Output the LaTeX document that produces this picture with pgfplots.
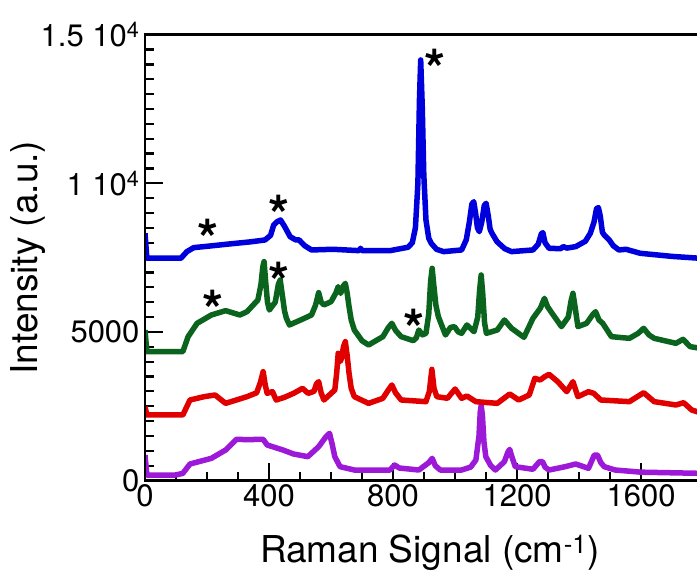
\documentclass[border=0pt]{standalone}
\usepackage{pgfplots}
\pgfplotsset{compat=1.18}
\usepackage{fontspec}
\setmainfont{TeX Gyre Heros}
\usetikzlibrary{calc}

\definecolor{cblue}{RGB}{0,0,220}
\definecolor{cgreen}{RGB}{10,100,30}
\definecolor{cred}{RGB}{225,0,0}
\definecolor{cpurple}{RGB}{155,25,215}

\begin{document}
\begin{tikzpicture}
\begin{axis}[
  scale only axis,
  width=552pt, height=445.8pt,
  xmin=0, xmax=1780, ymin=0, ymax=15000,
  axis line style={draw=none},
  xtick={0,400,800,1200,1600},
  ytick={0,5000,10000,15000},
  yticklabels={\mbox{0},\mbox{5000},\mbox{1 10\textsuperscript{4}},\mbox{1.5 10\textsuperscript{4}}},
  minor x tick num=3,
  minor y tick num=9,
  xtick pos=bottom, ytick pos=left,
  tick align=inside,
  major tick length=18pt, minor tick length=9pt,
  every tick/.style={black, line width=2.2pt},
  scaled ticks=false,
  /pgf/number format/assume math mode=true,
  /pgf/number format/1000 sep={},
  tick label style={font=\fontsize{31}{35}\selectfont},
  yticklabel style={xshift=-2pt},
  xlabel={Raman Signal (cm\textsuperscript{-1})},
  ylabel={Intensity (a.u.)},
  label style={font=\fontsize{37}{42}\selectfont},
  xlabel style={at={(rel axis cs:0.516,0)}, anchor=base, yshift=-82pt},
  ylabel style={at={(axis description cs:-0.212,0.5)}, anchor=center},
  clip mode=individual,
  every axis plot/.style={line width=5.5pt, line join=round},
]
% purple
\addplot[cpurple] coordinates {
(0,858)(6,185)(99,185)(122,241)(145,555)(214,746)(260,1026)(295,1386)(329,1375)
(381,1386)(394,1195)(445,1026)(479,892)(525,802)(560,1138)(582,1450)(595,1588)
(604,1200)(612,802)(629,465)(675,353)(790,353)(805,522)(820,420)(883,353)(915,600)
(926,746)(936,500)(952,353)(1021,353)(1050,450)(1067,690)(1077,1500)(1081,2300)
(1084,2518)(1088,2200)(1093,1300)(1099,802)(1115,500)(1130,353)(1159,634)(1170,950)
(1176,1049)(1183,800)(1194,465)(1251,378)(1272,634)(1282,634)(1290,450)(1303,353)
(1355,465)(1389,555)(1430,409)(1449,858)(1459,858)(1470,600)(1481,465)(1516,353)
(1600,280)(1790,241)
};
% red
\addplot[cred] coordinates {
(0,2484)(6,2204)(122,2204)(145,2709)(191,2821)(226,2877)(260,2596)(329,2821)(360,2950)
(372,3300)(381,3662)(388,3200)(394,2933)(411,2989)(423,2709)(450,2800)(479,2933)
(508,3101)(526,2933)(545,3000)(553,3250)(560,3326)(568,2950)(577,2709)(612,3045)
(618,3600)(623,4280)(629,4000)(634,4111)(640,4500)(646,4672)(652,4200)(658,3606)
(665,3100)(675,2821)(721,2596)(767,2765)(785,3050)(796,3214)(808,2950)(826,2709)
(906,2653)(917,3000)(925,3741)(932,3100)(941,2821)(975,2765)(1000,3079)(1021,2765)
(1038,2843)(1067,2653)(1136,2596)(1176,2911)(1205,2709)(1239,2877)(1257,3438)
(1274,3382)(1290,3500)(1303,3572)(1331,3326)(1360,2989)(1380,3326)(1396,2821)
(1430,2989)(1447,2933)(1470,2709)(1562,2653)(1608,2955)(1642,2653)(1712,2541)
(1737,2619)(1763,2372)(1790,2283)
};
% green
\addplot[cgreen] coordinates {
(0,5064)(6,4335)(122,4335)(139,4840)(168,5289)(214,5569)(260,5715)(306,5569)(329,5681)
(364,6074)(374,6600)(380,7200)(384,7364)(389,6700)(395,6000)(401,5737)(420,6000)
(430,6600)(436,6747)(442,6300)(450,5700)(456,5457)(466,5233)(480,5300)(502,5401)
(537,5569)(550,5900)(560,6320)(568,6000)(577,5906)(600,6018)(615,6300)(623,6523)
(631,6298)(640,6550)(646,6635)(652,6300)(658,5849)(665,5400)(675,5064)(700,4700)
(721,4560)(767,4840)(785,5150)(796,5289)(808,5050)(826,4840)(865,4706)(875,4800)
(883,5064)(895,4900)(906,4952)(915,5600)(921,6700)(926,7140)(931,6600)(938,5900)
(946,5513)(969,4896)(985,5150)(998,5177)(1010,5000)(1021,4952)(1038,5233)(1061,5008)
(1073,5500)(1079,6400)(1084,6915)(1089,6300)(1095,5300)(1101,4952)(1136,5064)
(1159,5401)(1182,5121)(1222,4818)(1251,5457)(1275,5800)(1288,6130)(1298,5850)
(1309,5681)(1343,5177)(1365,5500)(1374,6050)(1380,6298)(1386,5900)(1396,5177)
(1424,5289)(1445,5600)(1453,5681)(1464,5400)(1476,5289)(1504,4840)(1562,4784)
(1590,4950)(1608,5121)(1625,4900)(1642,4784)(1712,4616)(1735,4750)(1758,4504)
(1790,4448)
};
% blue
\addplot[cblue] coordinates {
(0,8318)(6,7480)(116,7480)(135,7700)(157,7835)(200,7880)(271,7958)(340,8030)(387,8093)
(405,8250)(415,8598)(425,8700)(437,8766)(450,8550)(468,8205)(485,8100)(497,8093)
(515,7900)(537,7757)(606,7780)(690,7734)(695,7813)(700,7734)(790,7734)(848,7847)
(862,8000)(872,8500)(880,10000)(885,12800)(889,14150)(894,12600)(899,10300)(906,8766)
(915,8150)(923,7981)(940,7780)(963,7701)(1021,7757)(1036,8100)(1046,8700)(1054,9300)
(1060,9383)(1066,9000)(1072,8500)(1078,8373)(1086,8700)(1094,9250)(1100,9327)
(1107,8900)(1113,8450)(1119,8318)(1135,8037)(1160,7800)(1182,7701)(1251,7757)
(1268,7950)(1278,8300)(1283,8340)(1290,8000)(1303,7813)(1340,7800)(1349,7870)
(1360,7820)(1389,7870)(1420,8050)(1436,8318)(1448,8700)(1456,9150)(1462,9181)
(1468,8900)(1475,8350)(1481,8261)(1497,8093)(1510,7900)(1528,7757)(1551,7780)
(1597,7645)(1700,7540)(1790,7477)
};
% asterisks
\begin{scope}[every node/.style={font=\fontsize{54}{56}\selectfont\bfseries, inner sep=0pt, yshift=-12pt}]
\node at (axis cs:203,8540) {*};
\node at (axis cs:433,9330) {*};
\node at (axis cs:934,14260) {*};
\node at (axis cs:220,6130) {*};
\node at (axis cs:433,7080) {*};
\node at (axis cs:869,5510) {*};
\end{scope}
\end{axis}
\draw[line width=2.8pt, line cap=rect] (current axis.south east) -- (current axis.south west)
  -- (current axis.north west) -- (current axis.north east);
\pgfresetboundingbox
\path[use as bounding box] ([xshift=-145pt,yshift=-90.5pt]current axis.south west)
  rectangle ([yshift=34.7pt]current axis.north east);
\end{tikzpicture}
\end{document}
